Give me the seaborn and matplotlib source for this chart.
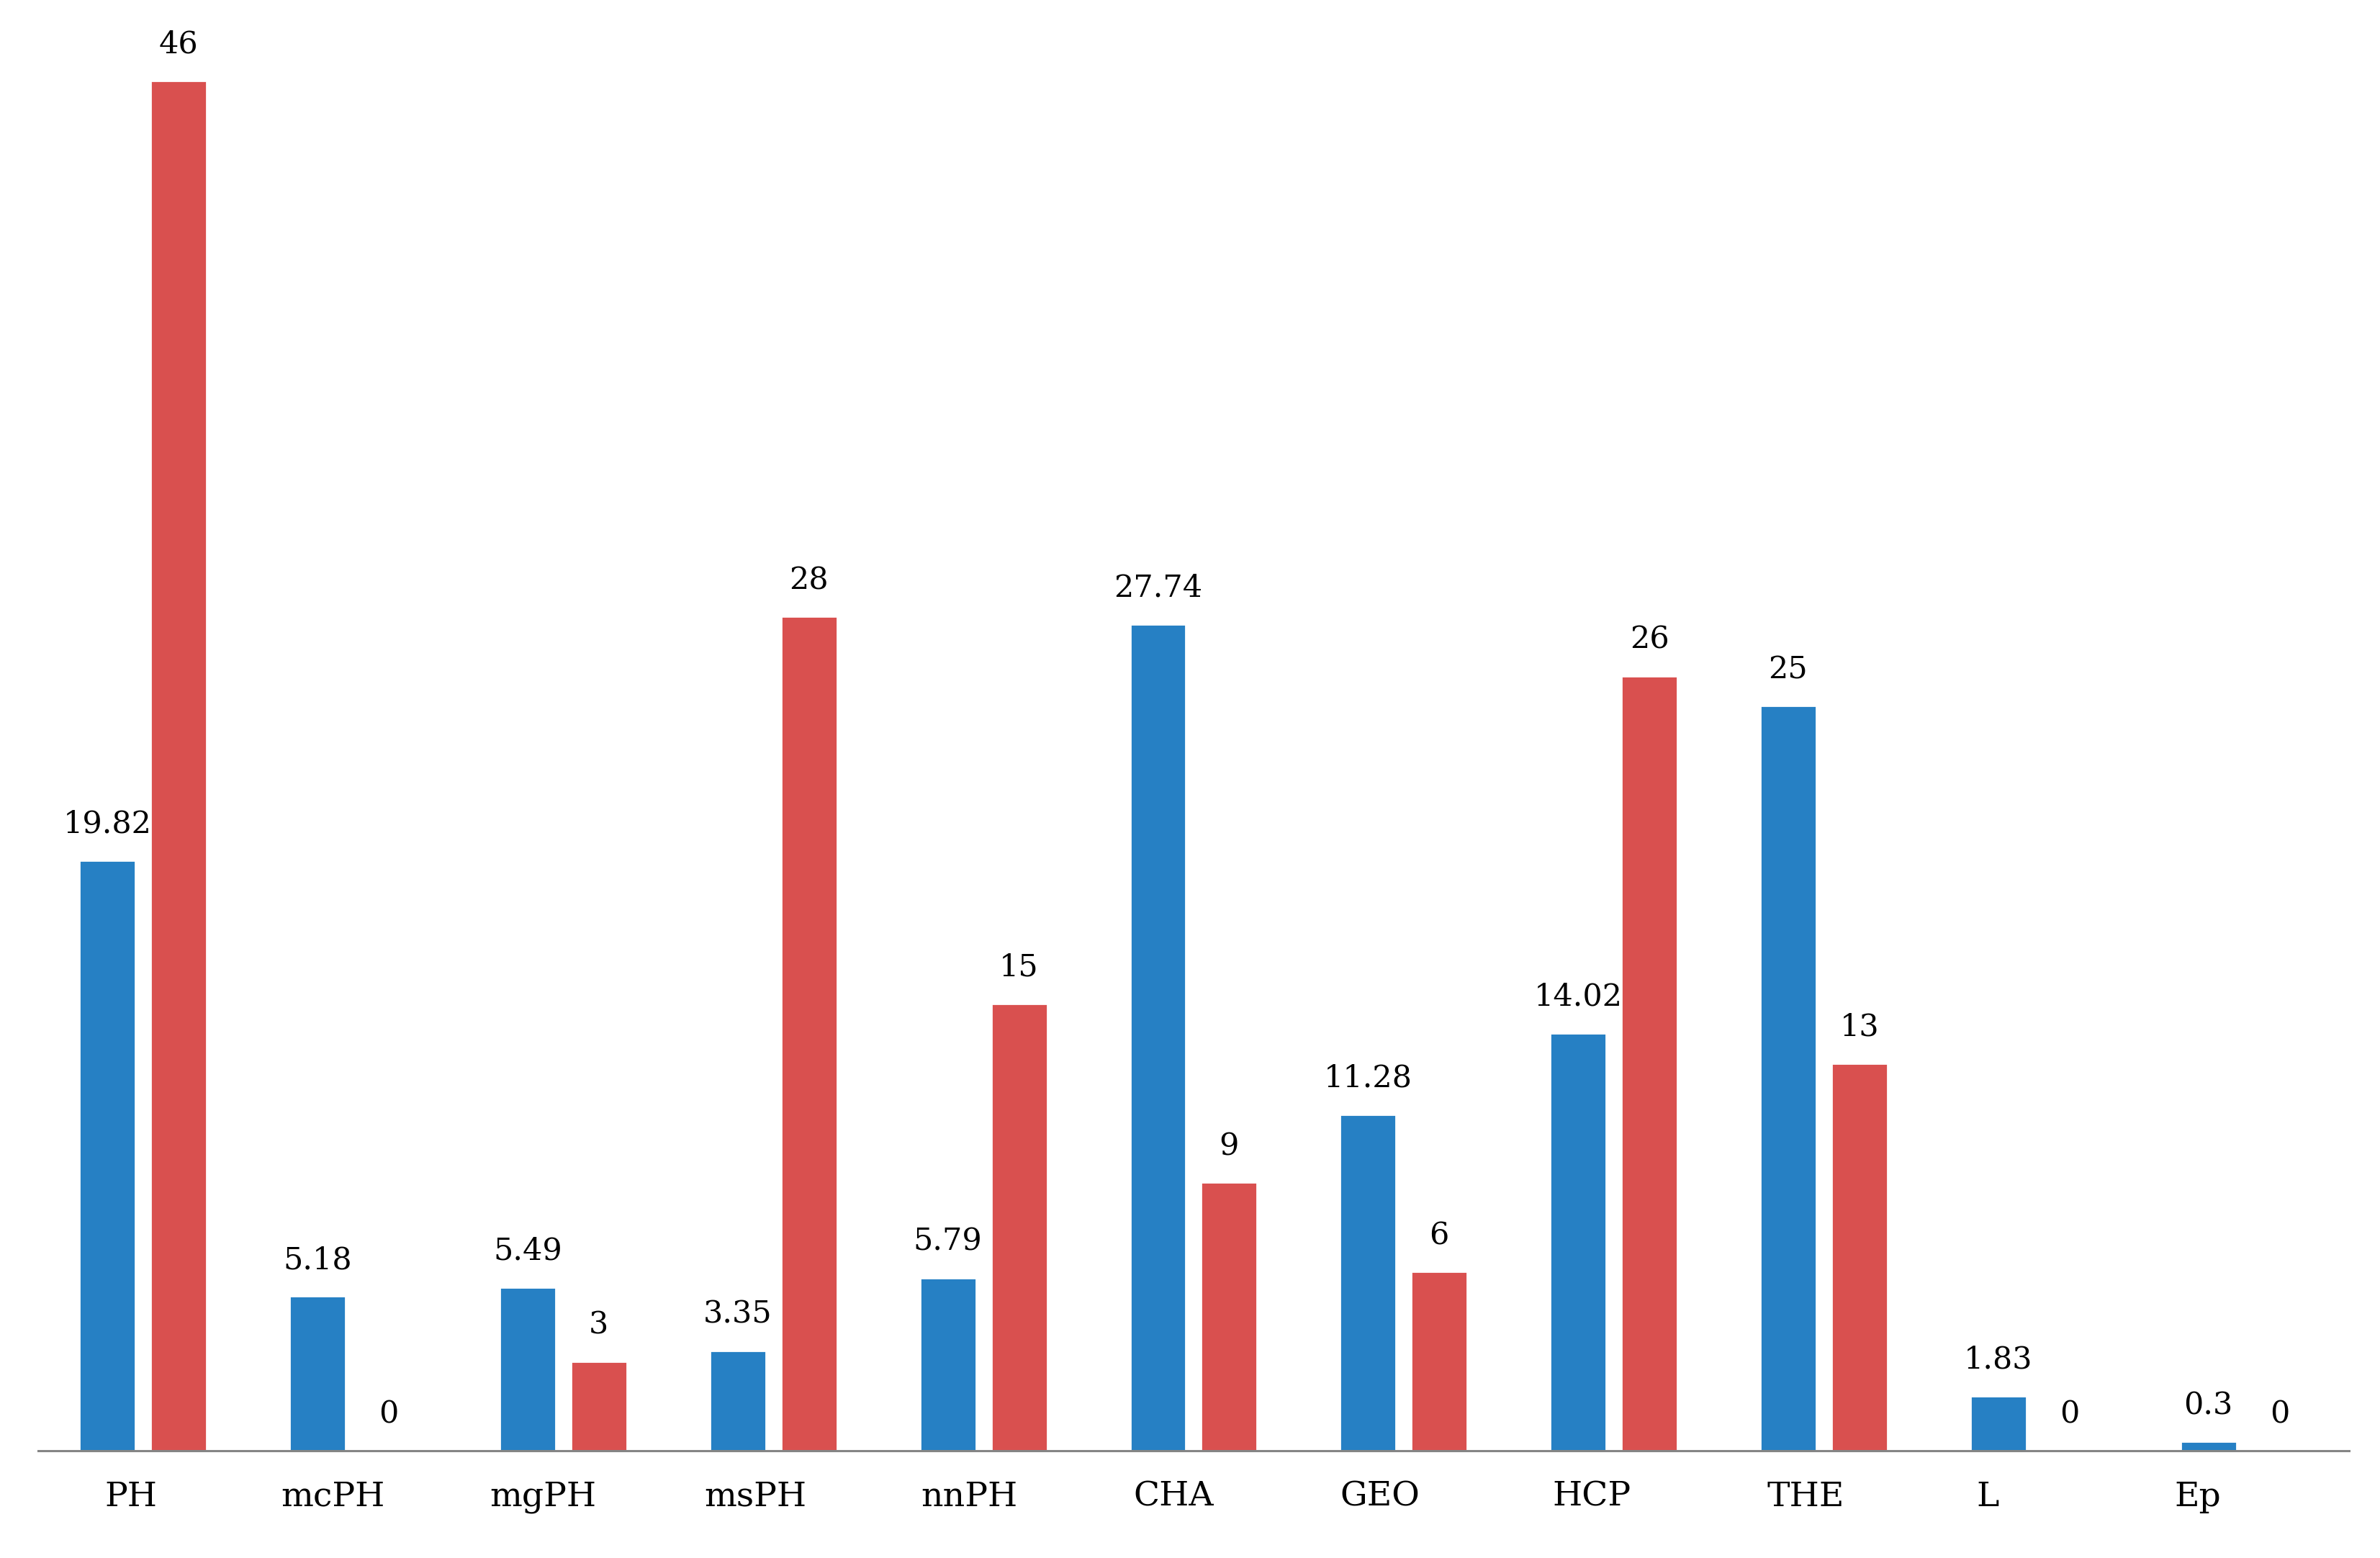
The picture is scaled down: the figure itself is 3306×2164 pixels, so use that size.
import matplotlib
matplotlib.use("Agg")
import matplotlib.pyplot as plt
import matplotlib.transforms as mtransforms
import numpy as np
import pandas as pd
import seaborn as sns

# data
categories = ['PH', 'mcPH', 'mgPH', 'msPH', 'nnPH', 'CHA', 'GEO', 'HCP', 'THE', 'L', 'Ep']
blue_vals = [19.82, 5.18, 5.49, 3.35, 5.79, 27.74, 11.28, 14.02, 25, 1.83, 0.3]
red_vals = [46, 0, 3, 28, 15, 9, 6, 26, 13, 0, 0]
blue_labels = ['19.82', '5.18', '5.49', '3.35', '5.79', '27.74', '11.28', '14.02', '25', '1.83', '0.3']
red_labels = ['46', '0', '3', '28', '15', '9', '6', '26', '13', '0', '0']
series = ['A', 'B']

# the category names in the original sit a little left of the bar pairs (points)
tick_shift = [-6, -10, -10, -9, -7, -10, -12, -11, -9, -23, -23]

df = pd.DataFrame({
    'cat': categories * 2,
    'val': blue_vals + red_vals,
    'series': [series[0]] * len(categories) + [series[1]] * len(categories),
})

sns.set_style('white', {'text.color': 'black', 'xtick.color': 'black'})
plt.rcParams['font.family'] = ['DejaVu Serif', 'Liberation Serif']

fig = plt.figure(figsize=(16.53, 10.82), dpi=200)
ax = fig.add_axes([0.016, 0.069, 0.971, 0.931])

sns.barplot(data=df, x='cat', y='val', hue='series', order=categories,
            palette=['#2680C4', '#D9504F'], width=0.678, gap=0.212,
            saturation=1, legend=False, ax=ax)

ax.bar_label(ax.containers[0], labels=blue_labels, padding=10.5, fontsize=15.5, color='black')
ax.bar_label(ax.containers[1], labels=red_labels, padding=10.5, fontsize=15.5, color='black')

ax.set_xlim(-0.5, len(categories) - 0.5)
ax.set_ylim(0, 48.7)
ax.set_xlabel('')
ax.set_ylabel('')
ax.set_yticks([])
ax.tick_params(axis='x', length=0, pad=15, labelsize=17, labelcolor='black')
for lab, dx in zip(ax.get_xticklabels(), tick_shift):
    lab.set_transform(lab.get_transform() + mtransforms.ScaledTranslation(dx / 72, 0, fig.dpi_scale_trans))
for s in ['top', 'right', 'left']:
    ax.spines[s].set_visible(False)
ax.spines['bottom'].set_color('#858585')
ax.spines['bottom'].set_linewidth(1.1)

fig.savefig('out.png', dpi=200, facecolor='white')
